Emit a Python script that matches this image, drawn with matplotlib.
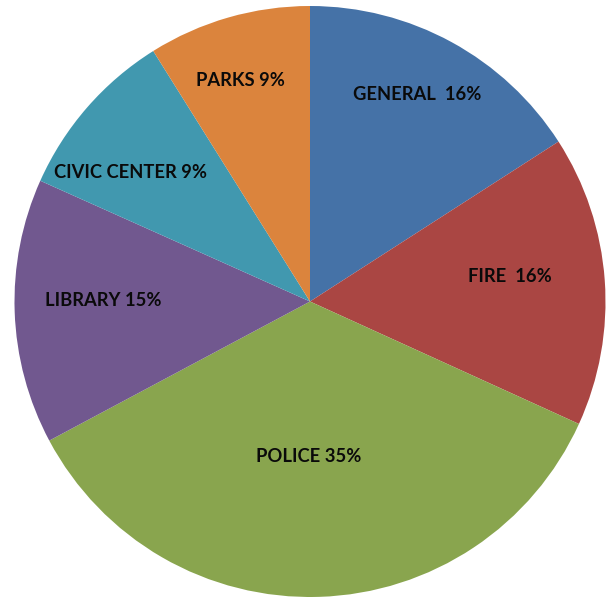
import matplotlib
matplotlib.use("Agg")
import matplotlib.pyplot as plt

categories = ["GENERAL", "FIRE", "POLICE", "LIBRARY", "CIVIC CENTER", "PARKS"]
shares = [15.9, 15.9, 35.4, 14.5, 9.4, 8.9]
label_texts = ["GENERAL  16%", "FIRE  16%", "POLICE 35%", "LIBRARY 15%", "CIVIC CENTER 9%", "PARKS 9%"]
colors = ["#4572A7", "#AA4643", "#89A54E", "#71588F", "#4198AF", "#DB843D"]

W, H = 615, 597
fig = plt.figure(figsize=(W / 100, H / 100), dpi=100)
ax = fig.add_axes([0, 0, 1, 1])
cx, cy, R = 310, H - 301.5, 295.5
ax.pie(shares, colors=colors, startangle=90, counterclock=False,
       center=(cx, cy), radius=R, frame=True,
       wedgeprops=dict(linewidth=0, antialiased=True))
ax.set_xlim(0, W)
ax.set_ylim(0, H)
ax.set_aspect("equal")
ax.axis("off")

# label anchor positions (pixel coords from top-left)
label_pos = [(417, 95), (510, 277), (309, 456), (103, 300), (130, 172), (240, 81)]
for txt, (lx, ly) in zip(label_texts, label_pos):
    ax.text(lx, H - ly, txt, ha="center", va="center", fontsize=13.2,
            fontweight="bold", family=["Lato", "DejaVu Sans"], color="#0a0a0a")

fig.savefig("out.png", dpi=100)
